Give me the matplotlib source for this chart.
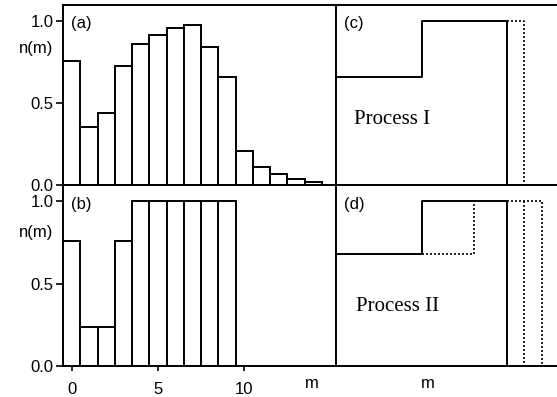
import matplotlib
matplotlib.use("Agg")
import matplotlib.pyplot as plt
import numpy as np

# ---- data ----
m_a = list(range(15))
n_a = [0.757, 0.353, 0.442, 0.728, 0.862, 0.919, 0.959, 0.976, 0.844, 0.657,
       0.209, 0.112, 0.067, 0.034, 0.016]
m_b = list(range(10))
n_b = [0.76, 0.24, 0.24, 0.76, 1.0, 1.0, 1.0, 1.0, 1.0, 1.0]

# right panels: step curves (arbitrary m units)
c_solid_x = [0, 3.14, 3.14, 6.25, 6.25]
c_solid_y = [0.66, 0.66, 1.0, 1.0, 0.0]
c_dot_x = [6.25, 6.87, 6.87]
c_dot_y = [1.0, 1.0, 0.0]

d_solid_x = [0, 3.14, 3.14, 6.25, 6.25]
d_solid_y = [0.68, 0.68, 1.0, 1.0, 0.0]
d_dot1_x = [3.14, 5.05, 5.05]
d_dot1_y = [0.68, 0.68, 1.0]
d_dot2_x = [6.25, 7.54, 7.54]
d_dot2_y = [1.0, 1.0, 0.0]
d_dot3_x = [6.87, 6.87]
d_dot3_y = [1.0, 0.0]

yticks = [0.0, 0.5, 1.0]
ytick_labels = ["0.0", "0.5", "1.0"]
xticks = [0, 5, 10]
xtick_labels = ["0", "5", "10"]

plt.rcParams['font.family'] = ['Liberation Sans', 'DejaVu Sans']

W, H = 557, 397
fig = plt.figure(figsize=(W / 100, H / 100), dpi=100)

def pos(x0, y0, x1, y1):
    return [x0 / W, 1 - y1 / H, (x1 - x0) / W, (y1 - y0) / H]

lw = 1.4
fs = 12
ax_a = fig.add_axes(pos(63, 5, 336, 185))
ax_b = fig.add_axes(pos(63, 185, 336, 366))
ax_c = fig.add_axes(pos(336, 5, 609, 185))
ax_d = fig.add_axes(pos(336, 185, 609, 366))

for ax in (ax_a, ax_b, ax_c, ax_d):
    ax.set_ylim(0, 1.1)
    for s in ax.spines.values():
        s.set_linewidth(lw)

for ax, m, n in ((ax_a, m_a, n_a), (ax_b, m_b, n_b)):
    ax.bar(m, n, width=1.0, color='white', edgecolor='black', linewidth=lw)
    ax.set_xlim(-0.5, 15.32)
    ax.set_yticks(yticks)
    ax.set_yticklabels(ytick_labels, fontsize=fs)
    ax.tick_params(axis='y', direction='out', length=5, width=1.2, pad=2)
    ax.text(-0.035, 0.76 if ax is ax_a else 0.735, "n(m)", transform=ax.transAxes,
            ha='right', va='center', fontsize=fs)

ax_a.set_xticks([])
ax_b.set_xticks(xticks)
ax_b.set_xticklabels(xtick_labels, fontsize=fs)
ax_b.tick_params(axis='x', direction='out', length=3.5, width=1.2, pad=8)

ax_a.text(0.03, 0.895, "(a)", transform=ax_a.transAxes, fontsize=fs, va='center')
ax_b.text(0.03, 0.895, "(b)", transform=ax_b.transAxes, fontsize=fs, va='center')

for ax in (ax_c, ax_d):
    ax.set_xlim(0, 10)
    ax.set_xticks([])
    ax.set_yticks([])
    ax.spines['right'].set_visible(False)

ax_c.plot(c_solid_x, c_solid_y, color='black', lw=lw)
ax_c.plot(c_dot_x, c_dot_y, color='black', lw=1.2, ls=(0, (1.2, 1.2)))
ax_d.plot(d_solid_x, d_solid_y, color='black', lw=lw)
for xs, ys in ((d_dot1_x, d_dot1_y), (d_dot2_x, d_dot2_y), (d_dot3_x, d_dot3_y)):
    ax_d.plot(xs, ys, color='black', lw=1.2, ls=(0, (1.2, 1.2)))

ax_c.text(0.03, 0.895, "(c)", transform=ax_c.transAxes, fontsize=fs, va='center')
ax_d.text(0.03, 0.895, "(d)", transform=ax_d.transAxes, fontsize=fs, va='center')
ax_c.text(0.66, 0.40, "Process I", fontsize=15, family=['Liberation Serif'], va='center')
ax_d.text(0.74, 0.36, "Process II", fontsize=15, family=['Liberation Serif'], va='center')

fig.text(305 / W, 1 - 383 / H, "m", fontsize=fs, va='center')
fig.text(428 / W, 1 - 383 / H, "m", fontsize=fs, va='center', ha='center')

fig.savefig("out.png", dpi=100)
